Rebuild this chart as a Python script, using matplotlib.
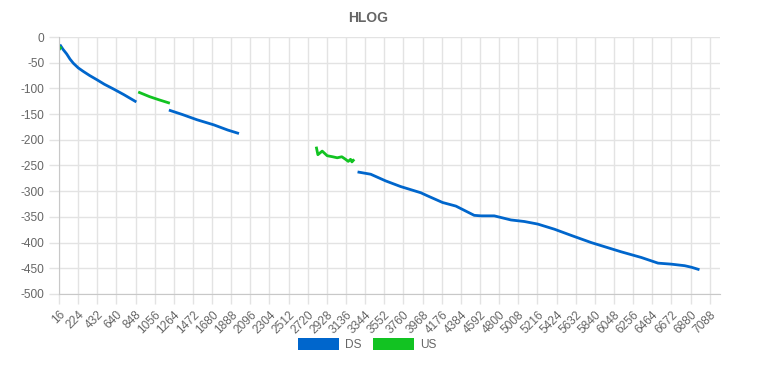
import matplotlib

matplotlib.use("Agg")
import matplotlib.pyplot as plt
from matplotlib.patches import Patch

# Tone index on x, HLOG (dB) on y; gaps between bands are simply separate segments.
ds_segments = [
    ([34, 60, 100, 136, 172, 225, 281, 350, 427, 510, 607, 720, 844],
     [-17, -24, -33, -43, -51, -60, -67, -75, -83, -92, -101, -112, -125]),
    ([1225, 1360, 1516, 1700, 1850, 1958],
     [-143, -151, -161, -171, -181, -187]),
    ([3276, 3404, 3567, 3730, 3948, 4021, 4185, 4330, 4529, 4602, 4747, 4929,
      5074, 5220, 5401, 5583, 5801, 5982, 6127, 6345, 6527, 6672, 6817, 6890, 6963],
     [-263, -267, -280, -291, -303, -309, -322, -329, -347, -348, -348, -356,
      -359, -364, -374, -386, -400, -410, -418, -429, -440, -442, -445, -448, -452]),
]
us_segments = [
    ([16, 24, 32], [-25, -23, -21]),
    ([891, 1000, 1100, 1207], [-108, -116, -122, -128]),
    ([2815, 2830, 2877, 2931, 2990, 3040, 3090, 3131, 3160, 3185, 3200, 3215],
     [-216, -229, -222, -231, -233, -235, -233, -238, -242, -238, -243, -240]),
]
x_ticks = list(range(16, 7089, 208))
y_ticks = list(range(0, -501, -50))

DS_COLOR = "#0066cc"
US_COLOR = "#12c322"
TEXT = "#666666"
GRID = "#e3e3e3"

plt.rcParams["font.family"] = ["Liberation Sans", "DejaVu Sans"]
plt.rcParams["axes.unicode_minus"] = False

fig = plt.figure(figsize=(7.7, 3.74), dpi=100)
ax = fig.add_axes([0.0766, 0.214, 0.8584, 0.687])

for xs, ys in ds_segments:
    ax.plot(xs, ys, color=DS_COLOR, lw=2)
for xs, ys in us_segments:
    ax.plot(xs, ys, color=US_COLOR, lw=2)

ax.set_xlim(16, 7200)
ax.set_ylim(-500, 0)
ax.set_xticks(x_ticks)
ax.set_xticklabels([str(t) for t in x_ticks], rotation=45, ha="right",
                   rotation_mode="anchor")
ax.set_yticks(y_ticks)
ax.tick_params(colors=GRID, labelcolor=TEXT, labelsize=8.6, length=7, width=1)
ax.grid(True, color=GRID, lw=1)
ax.set_axisbelow(True)
for side in ("top", "right"):
    ax.spines[side].set_visible(False)
for side in ("left", "bottom"):
    ax.spines[side].set_color("#c8c8c8")

fig.text(0.478, 0.952, "HLOG", ha="center", va="center", fontsize=10,
         fontweight="bold", color=TEXT)

handles = [Patch(facecolor=DS_COLOR, label="DS"), Patch(facecolor=US_COLOR, label="US")]
fig.legend(handles=handles, loc="center", bbox_to_anchor=(0.477, 0.078), ncol=2,
           frameon=False, fontsize=8.6, labelcolor=TEXT, handlelength=3.4,
           handleheight=1.1, handletextpad=0.5, columnspacing=1.0)

fig.savefig("out.png", dpi=100)
